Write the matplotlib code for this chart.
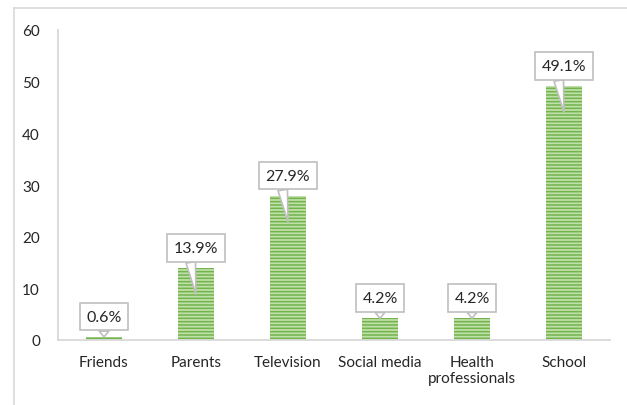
import matplotlib.pyplot as plt
from matplotlib.transforms import ScaledTranslation
from matplotlib.lines import Line2D

categories = ['Friends', 'Parents', 'Television', 'Social media',
              'Health\nprofessionals', 'School']
values = [0.6, 13.9, 27.9, 4.2, 4.2, 49.1]
yticks = [0, 10, 20, 30, 40, 50, 60]

plt.rcParams['font.family'] = ['Lato', 'DejaVu Sans']
plt.rcParams['hatch.linewidth'] = 1.1

fig = plt.figure(figsize=(6.27, 4.06), dpi=100)
ax = fig.add_axes([58 / 627, 1 - 341 / 406, 552 / 627, 310 / 406])

x = range(len(categories))
ax.bar(x, values, width=0.39, color='#bfe0a8', edgecolor='#72b34c',
       linewidth=0, hatch='-----', zorder=2)

ax.set_xlim(-0.5, len(categories) - 0.5)
ax.set_ylim(0, 60)
ax.set_yticks(yticks)
ax.set_xticks(list(x))
ax.set_xticklabels(categories, linespacing=1.2)
ax.tick_params(length=0, labelsize=11, colors='#262626')
ax.tick_params(axis='y', pad=13)
ax.tick_params(axis='x', pad=11)
for s in ['top', 'right']:
    ax.spines[s].set_visible(False)
for s in ['left', 'bottom']:
    ax.spines[s].set_color('#d9d9d9')
    ax.spines[s].set_linewidth(1.3)

# callout labels
lift = ax.transData + ScaledTranslation(0, 14.5 / 72, fig.dpi_scale_trans)
for i, v in enumerate(values):
    tip = v - 5 if v > 10 else v
    rel = (0.35, 0.1) if v > 10 else (0.5, 0.1)
    ax.annotate(f'{v}%', xy=(i, tip), xytext=(i, v), textcoords=lift,
                ha='center', va='center', fontsize=11.5, color='#262626',
                bbox=dict(boxstyle='square,pad=0.42', fc='white',
                          ec='#bfbfbf', lw=1.2),
                arrowprops=dict(arrowstyle='wedge,tail_width=0.6',
                                fc='white', ec='#bfbfbf', lw=1.2,
                                shrinkA=0, shrinkB=0, relpos=rel),
                zorder=3)

# chart border
fig.add_artist(Line2D([14 / 627, 14 / 627], [0, 1 - 9 / 406],
                      color='#d9d9d9', lw=1.2))
fig.add_artist(Line2D([14 / 627, 1], [1 - 9 / 406, 1 - 9 / 406],
                      color='#d9d9d9', lw=1.2))

fig.savefig('out.png', dpi=100)
